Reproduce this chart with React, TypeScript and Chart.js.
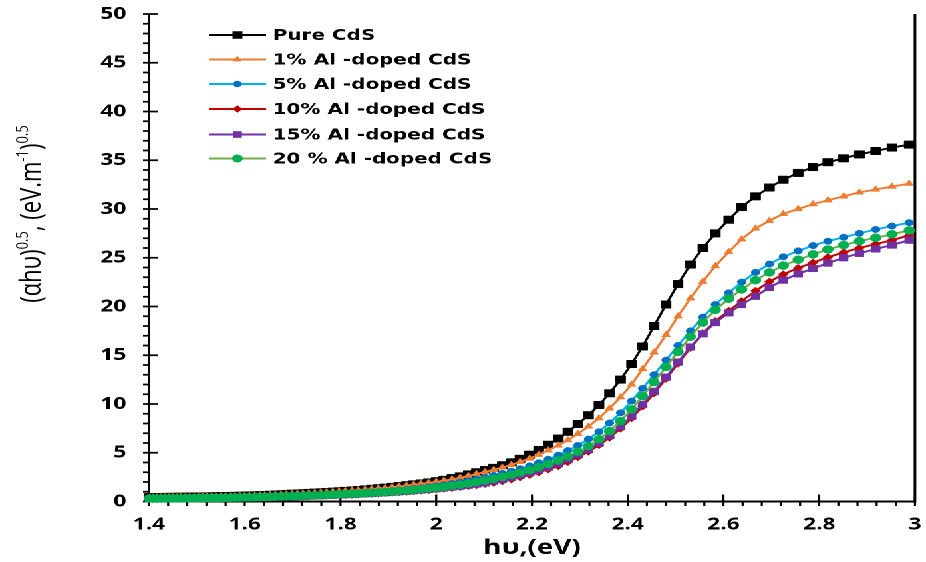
import React, { useEffect, useRef } from 'react';
import { Chart, registerables } from 'chart.js';

Chart.register(...registerables);

// Photon energy hν (eV) of each sample point, low to high
const photonEnergy = [
  1.401, 1.409, 1.417, 1.425, 1.434, 1.442, 1.450, 1.459, 1.467, 1.476,
  1.485, 1.494, 1.503, 1.512, 1.521, 1.531, 1.540, 1.550, 1.560, 1.570,
  1.580, 1.590, 1.600, 1.610, 1.621, 1.632, 1.642, 1.653, 1.664, 1.676,
  1.687, 1.699, 1.710, 1.722, 1.734, 1.746, 1.759, 1.771, 1.784, 1.797,
  1.810, 1.824, 1.837, 1.851, 1.865, 1.879, 1.893, 1.908, 1.922, 1.938,
  1.953, 1.968, 1.984, 2.000, 2.016, 2.033, 2.050, 2.067, 2.084, 2.102,
  2.120, 2.138, 2.157, 2.175, 2.195, 2.214, 2.234, 2.255, 2.275, 2.296,
  2.318, 2.340, 2.362, 2.385, 2.408, 2.431, 2.455, 2.480, 2.505, 2.531,
  2.557, 2.583, 2.611, 2.638, 2.667, 2.696, 2.725, 2.756, 2.787, 2.818,
  2.851, 2.884, 2.918, 2.952, 2.988,
];

// (αhν)^0.5 for each film
const pureCdS = [
  0.45, 0.45, 0.46, 0.46, 0.47, 0.47, 0.48, 0.48, 0.49, 0.49,
  0.50, 0.50, 0.51, 0.51, 0.52, 0.53, 0.54, 0.55, 0.56, 0.57,
  0.58, 0.59, 0.60, 0.62, 0.63, 0.65, 0.67, 0.69, 0.71, 0.74,
  0.77, 0.80, 0.82, 0.85, 0.88, 0.91, 0.94, 0.97, 1.01, 1.05,
  1.09, 1.13, 1.18, 1.24, 1.30, 1.36, 1.42, 1.50, 1.58, 1.67,
  1.76, 1.85, 1.96, 2.08, 2.22, 2.40, 2.58, 2.78, 3.00, 3.22,
  3.45, 3.72, 4.02, 4.38, 4.80, 5.28, 5.82, 6.45, 7.15, 7.95,
  8.85, 9.90, 11.10, 12.50, 14.10, 15.90, 18.00, 20.20, 22.30, 24.30,
  26.00, 27.50, 28.90, 30.20, 31.30, 32.20, 33.00, 33.70, 34.30, 34.80,
  35.20, 35.60, 35.95, 36.30, 36.60,
];

const al1 = [
  0.42, 0.42, 0.43, 0.43, 0.44, 0.44, 0.45, 0.45, 0.46, 0.46,
  0.47, 0.47, 0.48, 0.48, 0.49, 0.50, 0.51, 0.52, 0.53, 0.54,
  0.55, 0.56, 0.57, 0.59, 0.60, 0.62, 0.64, 0.66, 0.68, 0.71,
  0.74, 0.77, 0.79, 0.82, 0.85, 0.88, 0.91, 0.95, 0.99, 1.03,
  1.07, 1.11, 1.16, 1.21, 1.27, 1.33, 1.39, 1.46, 1.54, 1.63,
  1.72, 1.81, 1.91, 2.02, 2.14, 2.28, 2.44, 2.62, 2.82, 3.03,
  3.25, 3.49, 3.76, 4.06, 4.40, 4.80, 5.25, 5.75, 6.30, 6.95,
  7.70, 8.55, 9.55, 10.70, 12.00, 13.60, 15.30, 17.10, 19.00, 20.85,
  22.55, 24.15, 25.60, 26.90, 28.00, 28.80, 29.50, 30.00, 30.50, 30.90,
  31.30, 31.70, 32.00, 32.30, 32.60,
];

const al5 = [
  0.34, 0.34, 0.35, 0.35, 0.35, 0.36, 0.36, 0.36, 0.37, 0.37,
  0.38, 0.38, 0.39, 0.39, 0.40, 0.40, 0.41, 0.42, 0.43, 0.44,
  0.45, 0.46, 0.47, 0.48, 0.49, 0.50, 0.52, 0.53, 0.55, 0.57,
  0.59, 0.61, 0.63, 0.65, 0.67, 0.69, 0.72, 0.74, 0.77, 0.80,
  0.83, 0.86, 0.89, 0.93, 0.97, 1.01, 1.06, 1.11, 1.17, 1.25,
  1.33, 1.41, 1.50, 1.60, 1.71, 1.84, 1.98, 2.13, 2.29, 2.47,
  2.67, 2.88, 3.11, 3.36, 3.65, 3.97, 4.33, 4.75, 5.22, 5.75,
  6.40, 7.15, 8.05, 9.10, 10.30, 11.60, 13.00, 14.50, 16.00, 17.50,
  18.90, 20.20, 21.40, 22.50, 23.50, 24.35, 25.10, 25.70, 26.25, 26.70,
  27.10, 27.50, 27.90, 28.25, 28.60,
];

const al10 = [
  0.25, 0.25, 0.25, 0.26, 0.26, 0.26, 0.27, 0.27, 0.27, 0.28,
  0.28, 0.29, 0.29, 0.30, 0.30, 0.31, 0.31, 0.32, 0.33, 0.34,
  0.35, 0.35, 0.36, 0.37, 0.38, 0.39, 0.40, 0.41, 0.42, 0.44,
  0.45, 0.47, 0.48, 0.50, 0.52, 0.54, 0.56, 0.58, 0.61, 0.63,
  0.66, 0.69, 0.72, 0.75, 0.78, 0.82, 0.86, 0.90, 0.95, 1.00,
  1.05, 1.11, 1.17, 1.24, 1.31, 1.39, 1.48, 1.58, 1.68, 1.80,
  1.92, 2.08, 2.27, 2.48, 2.72, 2.99, 3.29, 3.63, 4.05, 4.55,
  5.12, 5.78, 6.55, 7.48, 8.55, 9.75, 11.10, 12.60, 14.15, 15.75,
  17.25, 18.50, 19.55, 20.55, 21.60, 22.55, 23.30, 23.95, 24.50, 25.05,
  25.55, 26.00, 26.40, 26.80, 27.30,
];

const al15 = [
  0.27, 0.27, 0.27, 0.28, 0.28, 0.28, 0.29, 0.29, 0.29, 0.30,
  0.30, 0.31, 0.31, 0.32, 0.32, 0.33, 0.33, 0.34, 0.35, 0.36,
  0.37, 0.38, 0.38, 0.39, 0.40, 0.41, 0.42, 0.43, 0.45, 0.46,
  0.48, 0.50, 0.51, 0.53, 0.55, 0.57, 0.59, 0.62, 0.64, 0.67,
  0.70, 0.73, 0.76, 0.79, 0.83, 0.86, 0.90, 0.95, 1.00, 1.05,
  1.11, 1.17, 1.24, 1.31, 1.39, 1.48, 1.57, 1.67, 1.78, 1.90,
  2.08, 2.26, 2.46, 2.68, 2.93, 3.20, 3.52, 3.88, 4.30, 4.78,
  5.33, 5.98, 6.75, 7.68, 8.75, 9.95, 11.30, 12.75, 14.30, 15.85,
  17.20, 18.35, 19.35, 20.20, 21.05, 21.95, 22.70, 23.35, 23.90, 24.45,
  25.00, 25.45, 25.90, 26.30, 26.80,
];

const al20 = [
  0.30, 0.30, 0.30, 0.31, 0.31, 0.31, 0.32, 0.32, 0.32, 0.33,
  0.33, 0.34, 0.34, 0.35, 0.35, 0.36, 0.36, 0.37, 0.38, 0.39,
  0.40, 0.41, 0.42, 0.43, 0.44, 0.45, 0.46, 0.48, 0.49, 0.51,
  0.53, 0.55, 0.57, 0.59, 0.61, 0.63, 0.65, 0.68, 0.70, 0.73,
  0.76, 0.79, 0.82, 0.85, 0.89, 0.93, 0.97, 1.02, 1.07, 1.13,
  1.19, 1.26, 1.33, 1.41, 1.50, 1.60, 1.72, 1.85, 1.99, 2.15,
  2.33, 2.52, 2.73, 2.96, 3.22, 3.51, 3.84, 4.21, 4.62, 5.10,
  5.68, 6.38, 7.22, 8.25, 9.45, 10.80, 12.25, 13.80, 15.35, 16.90,
  18.35, 19.65, 20.80, 21.75, 22.70, 23.50, 24.20, 24.80, 25.35, 25.85,
  26.30, 26.70, 27.05, 27.40, 27.80,
];

const seriesNames = [
  'Pure CdS',
  '1% Al -doped CdS',
  '5% Al -doped CdS',
  '10% Al -doped CdS',
  '15% Al -doped CdS',
  '20 % Al -doped CdS',
];
const seriesValues = [pureCdS, al1, al5, al10, al15, al20];
const lineColors = ['#000000', '#ED7D31', '#00B0F0', '#C00000', '#7030A0', '#70AD47'];
const markerColors = ['#000000', '#ED7D31', '#0070C0', '#C00000', '#7030A0', '#00B050'];
const markerStyles = ['rect', 'triangle', 'circle', 'rectRot', 'rect', 'circle'];
const markerRadii = [5.3, 3.8, 3.2, 3.7, 4.7, 4.0];

const xTickLabels = ['1.4', '1.6', '1.8', '2', '2.2', '2.4', '2.6', '2.8', '3'];
const yTickLabels = ['0', '5', '10', '15', '20', '25', '30', '35', '40', '45', '50'];

const xTitle = 'hυ,(eV)';
// y title pieces: [text, isSuperscript]
const yTitleParts: [string, boolean][] = [
  ['(αhυ)', false],
  ['0.5', true],
  [', (eV.m', false],
  ['-1', true],
  [')', false],
  ['0.5', true],
];

// The drawing is laid out on a narrower canvas and widened horizontally.
const PAGE_W = 926;
const PAGE_H = 562;
const BASE_W = 696;
const FONT = "'Open Sans', 'DejaVu Sans', sans-serif";
const LEGEND_FONT = "'DejaVu Sans', 'Open Sans', sans-serif";

const PLOT_LEFT = 112;
const PLOT_RIGHT = 687.7;
const PLOT_TOP = 14;
const PLOT_BOTTOM = 501.5;

const X_MIN = 1.4;
const X_MAX = 3.0;
const X_MINOR = 0.04;
const Y_MAX = 50;
const TICK_IN = 7;
const TICK_OUT = 4.5;

function drawMarker(ctx: CanvasRenderingContext2D, style: string, x: number, y: number, r: number) {
  ctx.beginPath();
  if (style === 'rect') {
    const s = r * Math.SQRT1_2;
    ctx.rect(x - s, y - s, 2 * s, 2 * s);
  } else if (style === 'rectRot') {
    ctx.moveTo(x - r, y);
    ctx.lineTo(x, y - r);
    ctx.lineTo(x + r, y);
    ctx.lineTo(x, y + r);
    ctx.closePath();
  } else if (style === 'triangle') {
    let a = 0;
    ctx.moveTo(x + Math.sin(a) * r, y - Math.cos(a) * r);
    a += (2 * Math.PI) / 3;
    ctx.lineTo(x + Math.sin(a) * r, y - Math.cos(a) * r);
    a += (2 * Math.PI) / 3;
    ctx.lineTo(x + Math.sin(a) * r, y - Math.cos(a) * r);
    ctx.closePath();
  } else {
    ctx.arc(x, y, r, 0, Math.PI * 2);
  }
  ctx.fill();
}

// Axis lines, the right frame line and the crossing/minor tick marks
const axesPlugin = {
  id: 'axesFrame',
  beforeDatasetsDraw(chart: any) {
    const { ctx, chartArea: a, scales } = chart;
    const xs = scales.x;
    const ys = scales.y;
    ctx.save();
    ctx.strokeStyle = '#000';
    ctx.lineWidth = 2;
    ctx.beginPath();
    ctx.moveTo(a.left, a.top);
    ctx.lineTo(a.left, a.bottom + 1);
    ctx.moveTo(a.left - 1, a.bottom);
    ctx.lineTo(a.right + 1, a.bottom);
    ctx.moveTo(a.right, a.top);
    ctx.lineTo(a.right, a.bottom + 1);
    ctx.stroke();

    ctx.lineWidth = 1.6;
    ctx.beginPath();
    const nx = Math.round((X_MAX - X_MIN) / X_MINOR);
    for (let k = 0; k <= nx; k++) {
      const px = xs.getPixelForValue(X_MIN + k * X_MINOR);
      ctx.moveTo(px, a.bottom + TICK_OUT);
      ctx.lineTo(px, k % 5 === 0 ? a.bottom - TICK_IN : a.bottom);
    }
    ctx.stroke();

    ctx.lineWidth = 1.8;
    ctx.beginPath();
    for (let k = 0; k <= Y_MAX; k++) {
      const py = ys.getPixelForValue(k);
      ctx.moveTo(a.left - TICK_OUT, py);
      ctx.lineTo(k % 5 === 0 ? a.left + TICK_IN : a.left, py);
    }
    ctx.stroke();
    ctx.restore();
  },
};

// Legend block and axis titles
const annotationPlugin = {
  id: 'legendAndTitles',
  afterDraw(chart: any) {
    const { ctx, chartArea: a } = chart;
    ctx.save();

    // legend
    const rowY = [35, 59.5, 84, 109, 134.5, 158.5];
    ctx.font = `bold 15px ${LEGEND_FONT}`;
    ctx.textBaseline = 'middle';
    ctx.textAlign = 'left';
    seriesNames.forEach((name, i) => {
      const y = rowY[i];
      ctx.strokeStyle = lineColors[i];
      ctx.lineWidth = 2;
      ctx.beginPath();
      ctx.moveTo(157, y);
      ctx.lineTo(200, y);
      ctx.stroke();
      ctx.fillStyle = markerColors[i];
      drawMarker(ctx, markerStyles[i], 178.5, y, markerRadii[i]);
      ctx.fillStyle = '#000';
      ctx.fillText(name, 205, y + 1);
    });

    // x title
    ctx.font = `bold 21px ${FONT}`;
    ctx.textAlign = 'center';
    ctx.textBaseline = 'middle';
    ctx.fillStyle = '#000';
    ctx.fillText(xTitle, (a.left + a.right) / 2, 548);

    // y title (rotated, with superscripts)
    const mainFont = `22px ${FONT}`;
    const supFont = `13px ${FONT}`;
    let total = 0;
    const widths = yTitleParts.map(([t, sup]) => {
      ctx.font = sup ? supFont : mainFont;
      const w = ctx.measureText(t).width;
      total += w;
      return w;
    });
    ctx.translate(23, 214);
    ctx.rotate(-Math.PI / 2);
    ctx.textAlign = 'left';
    ctx.textBaseline = 'alphabetic';
    let cx = -total / 2;
    yTitleParts.forEach(([t, sup], i) => {
      ctx.font = sup ? supFont : mainFont;
      ctx.fillText(t, cx, sup ? -2 : 7.5);
      cx += widths[i];
    });
    ctx.restore();
  },
};

export default function App() {
  const canvasRef = useRef<HTMLCanvasElement | null>(null);

  useEffect(() => {
    const canvas = canvasRef.current;
    if (!canvas) return;

    // draw order: later films on top (green drawn last)
    const datasets = seriesNames.map((name, i) => ({
      label: name,
      data: photonEnergy.map((x, j) => ({ x, y: seriesValues[i][j] })),
      borderColor: lineColors[i],
      backgroundColor: markerColors[i],
      borderWidth: 1.9,
      pointStyle: markerStyles[i] as any,
      pointRadius: markerRadii[i],
      pointBackgroundColor: markerColors[i],
      pointBorderColor: markerColors[i],
      pointBorderWidth: 0.5,
      tension: 0,
      fill: false,
      clip: false as any,
      order: seriesNames.length - 1 - i,
    }));

    const chart = new Chart(canvas, {
      type: 'line',
      data: { datasets },
      options: {
        animation: false,
        responsive: true,
        maintainAspectRatio: false,
        devicePixelRatio: 2,
        layout: { padding: { top: PLOT_TOP, right: BASE_W - PLOT_RIGHT, bottom: 0, left: 0 } },
        plugins: {
          legend: { display: false },
          title: { display: false },
          tooltip: { enabled: false },
        },
        scales: {
          x: {
            type: 'linear',
            min: X_MIN,
            max: X_MAX,
            grid: { display: false, drawTicks: false },
            border: { display: false },
            afterFit: (s: any) => {
              s.height = PAGE_H - PLOT_BOTTOM;
              s.paddingLeft = 0;
              s.paddingRight = 0;
            },
            afterBuildTicks: (s: any) => {
              s.ticks = xTickLabels.map((_, k) => ({ value: X_MIN + k * 0.2 }));
            },
            ticks: {
              padding: 13,
              color: '#000',
              font: { family: FONT, weight: 'bold', size: 17 },
              maxRotation: 0,
              autoSkip: false,
              callback: (_v: any, idx: number) => xTickLabels[idx],
            },
          },
          y: {
            type: 'linear',
            min: 0,
            max: Y_MAX,
            grid: { display: false, drawTicks: false },
            border: { display: false },
            afterFit: (s: any) => {
              s.width = PLOT_LEFT;
              s.paddingTop = 0;
              s.paddingBottom = 0;
            },
            ticks: {
              stepSize: 5,
              padding: 17,
              color: '#000',
              font: { family: FONT, weight: 'bold', size: 17 },
              callback: (_v: any, idx: number) => yTickLabels[idx],
            },
          },
        },
      },
      plugins: [axesPlugin, annotationPlugin],
    });

    const fonts = (document as any).fonts;
    if (fonts && fonts.ready) {
      fonts.ready.then(() => {
        if ((chart as any).ctx) chart.update();
      });
    }

    return () => chart.destroy();
  }, []);

  return (
    <div
      style={{
        position: 'absolute',
        left: 0,
        top: 0,
        width: BASE_W,
        height: PAGE_H,
        transform: `scaleX(${PAGE_W / BASE_W})`,
        transformOrigin: '0 0',
        background: '#ffffff',
      }}
    >
      <canvas ref={canvasRef} />
    </div>
  );
}
